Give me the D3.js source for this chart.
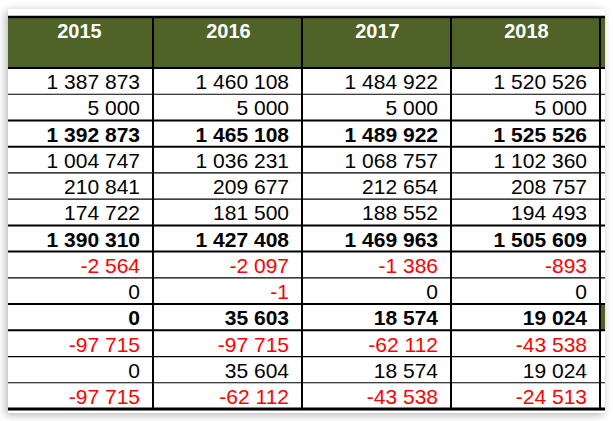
<!DOCTYPE html>
<html><head><meta charset="utf-8">
<script src="https://cdn.jsdelivr.net/npm/d3@7"></script>
<style>html,body{margin:0;padding:0;background:#fff;}svg{display:block;}</style>
</head><body>
<script>
const years = ["2015", "2016", "2017", "2018"];
const row1 = [1387873, 1460108, 1484922, 1520526];
const row2 = [5000, 5000, 5000, 5000];
const row3 = [1392873, 1465108, 1489922, 1525526];
const row4 = [1004747, 1036231, 1068757, 1102360];
const row5 = [210841, 209677, 212654, 208757];
const row6 = [174722, 181500, 188552, 194493];
const row7 = [1390310, 1427408, 1469963, 1505609];
const row8 = [-2564, -2097, -1386, -893];
const row9 = [0, -1, 0, 0];
const row10 = [0, 35603, 18574, 19024];
const row11 = [-97715, -97715, -62112, -43538];
const row12 = [0, 35604, 18574, 19024];
const row13 = [-97715, -62112, -43538, -24513];
const rows = [row1, row2, row3, row4, row5, row6, row7, row8, row9, row10, row11, row12, row13];
const boldRows = [2, 6, 9];

const W = 613, H = 421;
const green = "#4f6228";
const svg = d3.select("body").append("svg").attr("width", W).attr("height", H);

const defs = svg.append("defs");
const f = defs.append("filter").attr("id", "sh").attr("x", "-10%").attr("y", "-10%").attr("width", "120%").attr("height", "120%");
f.append("feDropShadow").attr("dx", -2).attr("dy", 2).attr("stdDeviation", 4).attr("flood-color", "#000").attr("flood-opacity", 0.3);
defs.append("clipPath").attr("id", "clip").append("rect").attr("x", 8).attr("y", 9).attr("width", 597).attr("height", 404);

svg.append("rect").attr("x", 8).attr("y", 9).attr("width", 597).attr("height", 404).attr("fill", "#fff").attr("filter", "url(#sh)");

const g = svg.append("g").attr("clip-path", "url(#clip)");

const x = d3.scaleBand().domain(years).range([4, 600]).padding(0);
const rowIdx = d3.range(rows.length);
const y = d3.scaleBand().domain(rowIdx).range([68, 409]).padding(0);
const headTop = 17, headBot = 68;

const fmt = d3.formatLocale({decimal: ",", thousands: " ", grouping: [3], currency: ["", ""], minus: "-"}).format(",d");

g.append("rect").attr("x", 0).attr("y", headTop).attr("width", W).attr("height", headBot - headTop).attr("fill", green);
g.append("rect").attr("x", 600).attr("y", y(9)).attr("width", 20).attr("height", y.bandwidth()).attr("fill", green);

g.selectAll("text.head").data(years).join("text").attr("class", "head")
  .attr("x", d => x(d) + x.bandwidth() / 2 + 1).attr("y", 38)
  .attr("text-anchor", "middle").attr("fill", "#fff")
  .attr("font-family", "Liberation Sans, Arial, sans-serif").attr("font-weight", "bold").attr("font-size", 20)
  .text(d => d);

rows.forEach((r, i) => {
  g.selectAll(null).data(r).join("text")
    .attr("x", (d, j) => x(years[j]) + x.bandwidth() - 13)
    .attr("y", y(i) + y.bandwidth() - 5)
    .attr("text-anchor", "end")
    .attr("fill", d => d < 0 ? "#ff0000" : "#000")
    .attr("font-family", "Liberation Sans, Arial, sans-serif")
    .attr("font-weight", boldRows.includes(i) ? "bold" : "normal")
    .attr("font-size", 21)
    .text(d => fmt(d));
});

const lineYs = [headBot].concat(rowIdx.map(i => y(i) + y.bandwidth()));
g.selectAll("line.h").data(lineYs).join("line").attr("class", "h")
  .attr("x1", 0).attr("x2", W).attr("y1", d => d).attr("y2", d => d)
  .attr("stroke", "#000")
  .attr("stroke-width", (d, k) => {
    if (k === lineYs.length - 1) return 3;
    if (k === 0) return 2;
    const above = k - 1, below = k;
    return (boldRows.includes(above) || boldRows.includes(below)) ? 2 : 1.2;
  });
g.append("line").attr("x1", 0).attr("x2", W).attr("y1", headTop).attr("y2", headTop).attr("stroke", "#000").attr("stroke-width", 2.5);

const vx = years.slice(1).map(d => x(d)).concat([x(years[3]) + x.bandwidth()]);
g.selectAll("line.v").data(vx).join("line").attr("class", "v")
  .attr("x1", d => d).attr("x2", d => d).attr("y1", headTop).attr("y2", 410)
  .attr("stroke", "#000").attr("stroke-width", 2);
</script>
</body></html>
